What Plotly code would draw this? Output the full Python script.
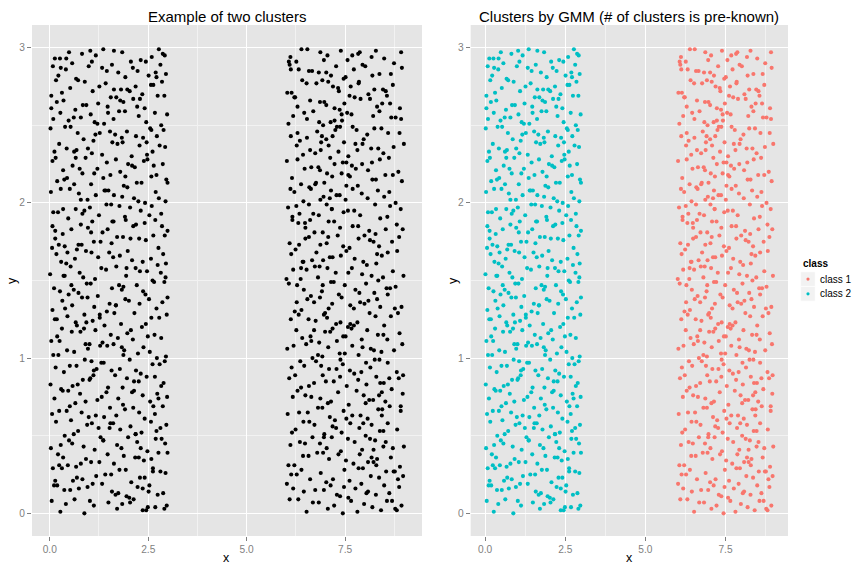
import plotly.graph_objects as go

# ---------------- data (read/estimated from the picture) ----------------
# cluster on the left (x in 0..3) -> "class 2" in the GMM panel
cluster_a_x = [
    0.27,1.84,2.91,0.63,1.12,2.45,0.05,2.68,1.49,0.88,2.13,1.71,0.41,2.97,1.02,2.36,
    1.58,0.19,2.74,0.96,2.02,0.52,1.33,2.88,0.74,1.95,2.51,0.11,1.67,2.23,0.37,1.09,
    2.62,0.83,1.41,0.08,2.29,1.77,0.59,2.94,1.18,0.31,2.07,1.56,2.81,0.69,1.93,0.14,
    0.46,2.17,1.26,2.76,0.92,1.63,0.21,2.39,1.88,0.67,2.99,1.05,0.34,2.58,1.47,0.79,
    1.71,2.84,0.03,1.36,2.48,0.57,1.99,0.86,2.22,1.14,0.28,2.69,1.82,0.49,2.93,1.29,
    0.95,2.33,1.52,0.16,2.71,1.07,0.61,2.05,1.79,2.57,0.38,1.24,2.96,0.72,1.61,2.18,
    2.41,0.24,1.69,2.87,0.81,1.38,2.12,0.06,1.91,0.54,2.63,1.17,0.43,2.27,1.53,0.99,
    0.12,1.44,2.55,0.77,1.86,2.98,0.33,1.21,2.36,0.65,1.74,2.09,0.91,2.73,1.32,0.47,
    1.96,0.58,2.26,1.11,0.02,2.67,1.48,0.84,2.89,1.66,0.29,2.14,1.03,0.71,2.46,1.85,
    0.36,2.79,1.19,2.03,0.68,1.57,2.92,0.15,1.37,2.31,0.89,1.78,2.61,0.51,1.06,2.19,
    2.54,1.28,0.09,1.83,2.72,0.44,1.62,2.24,0.97,2.95,0.62,1.46,0.22,2.38,1.89,1.01,
    0.78,2.11,1.55,0.31,2.83,1.16,0.04,1.97,2.49,0.87,1.34,2.66,0.56,1.73,2.06,0.25,
    1.39,2.58,0.66,2.15,0.18,1.81,2.97,1.09,0.45,2.34,1.64,0.93,2.78,0.13,1.27,2.44,
    0.57,1.92,2.71,0.32,1.45,2.28,0.82,1.13,2.86,0.07,1.68,2.52,0.39,2.01,1.52,2.99,
    2.21,0.73,1.58,2.91,0.26,1.04,2.43,1.87,0.61,2.65,1.22,0.11,1.76,2.37,0.94,0.48,
    1.15,2.47,0.35,1.69,2.82,0.85,2.18,0.01,1.43,2.61,0.53,1.94,2.29,0.76,1.31,2.94,
    0.64,1.51,2.36,0.17,2.74,1.23,0.92,2.09,1.78,0.42,2.57,1.06,0.29,2.88,1.61,1.98,
    2.05,0.38,1.29,2.63,0.81,1.86,0.06,2.44,1.57,2.92,0.69,1.12,2.27,0.23,1.71,2.76,
    1.34,2.19,0.55,1.93,2.85,0.14,1.62,0.97,2.41,0.33,2.68,1.47,0.79,2.12,1.08,2.99,
    0.21,1.77,2.53,1.02,0.47,2.31,1.44,2.83,0.66,1.91,0.09,2.59,1.25,2.04,0.88,1.56,
    2.69,0.96,1.63,0.28,2.14,1.39,2.94,0.74,1.84,0.51,2.42,1.17,0.03,2.77,1.49,2.25,
    1.88,0.44,2.33,1.13,2.96,0.62,1.54,0.19,2.58,1.97,0.83,2.21,1.36,0.37,2.71,1.05,
    0.58,2.48,1.21,0.07,1.79,2.87,0.91,2.16,1.45,0.34,2.64,1.68,0.76,2.39,1.99,0.15,
    2.28,1.07,0.43,1.85,2.61,0.24,1.33,2.93,0.68,1.59,2.08,0.97,2.79,0.12,1.72,2.47,
    0.86,1.96,2.72,0.53,1.27,2.37,0.02,1.66,2.89,1.11,0.39,2.19,1.53,0.71,2.55,1.83,
    1.62,0.27,2.45,1.04,2.83,0.79,1.91,0.48,2.26,1.38,0.09,2.67,1.14,2.98,0.61,1.76,
    2.12,1.47,0.18,2.74,0.93,1.69,2.41,0.35,1.23,2.91,0.65,1.87,2.29,0.84,1.55,0.04,
    0.31,2.63,1.81,0.72,2.18,1.09,2.85,0.52,1.42,2.35,0.16,1.97,2.57,1.26,0.89,2.03,
    1.74,0.08,2.51,1.33,0.67,2.23,1.58,2.95,0.41,1.92,2.69,0.99,0.22,2.11,1.45,2.81,
    0.49,2.31,1.17,2.77,0.13,1.63,2.06,0.82,2.59,1.36,0.57,2.92,1.84,0.26,1.03,2.44,
    0.73,2.26,1.48,0.19,2.83,1.07,0.55,2.41,1.92,0.34,2.67,1.16,0.88,2.04,1.63,2.95,
    1.31,0.62,2.18,0.07,1.79,2.53,0.96,1.42,2.76,0.28,1.87,2.31,0.45,1.21,2.62,0.83,
    2.09,1.54,0.38,2.87,1.01,0.69,2.46,1.74,0.14,2.22,1.36,0.91,2.71,0.51,1.68,2.99,
    0.24,1.95,2.58,1.12,0.79,2.36,1.59,0.04,2.81,1.27,0.66,2.14,1.83,0.42,2.49,1.05,
]
cluster_a_y = [
    0.01,0.06,0.03,0.09,0.05,0.02,0.08,0.04,0.07,0.00,0.09,0.03,0.06,0.05,0.08,0.02,
    0.14,0.18,0.12,0.17,0.10,0.15,0.19,0.13,0.16,0.11,0.14,0.18,0.12,0.17,0.15,0.19,
    0.27,0.22,0.25,0.29,0.23,0.28,0.21,0.26,0.24,0.29,0.20,0.25,0.27,0.23,0.28,0.21,
    0.31,0.36,0.33,0.39,0.35,0.32,0.38,0.34,0.37,0.30,0.39,0.33,0.36,0.35,0.38,0.32,
    0.44,0.48,0.42,0.47,0.40,0.45,0.49,0.43,0.46,0.41,0.44,0.48,0.42,0.47,0.45,0.49,
    0.57,0.52,0.55,0.59,0.53,0.58,0.51,0.56,0.54,0.59,0.50,0.55,0.57,0.53,0.58,0.51,
    0.61,0.66,0.63,0.69,0.65,0.62,0.68,0.64,0.67,0.60,0.69,0.63,0.66,0.65,0.68,0.62,
    0.74,0.78,0.72,0.77,0.70,0.75,0.79,0.73,0.76,0.71,0.74,0.78,0.72,0.77,0.75,0.79,
    0.87,0.82,0.85,0.89,0.83,0.88,0.81,0.86,0.84,0.89,0.80,0.85,0.87,0.83,0.88,0.81,
    0.91,0.96,0.93,0.99,0.95,0.92,0.98,0.94,0.97,0.90,0.99,0.93,0.96,0.95,0.98,0.92,
    1.04,1.08,1.02,1.07,1.00,1.05,1.09,1.03,1.06,1.01,1.04,1.08,1.02,1.07,1.05,1.09,
    1.17,1.12,1.15,1.19,1.13,1.18,1.11,1.16,1.14,1.19,1.10,1.15,1.17,1.13,1.18,1.11,
    1.21,1.26,1.23,1.29,1.25,1.22,1.28,1.24,1.27,1.20,1.29,1.23,1.26,1.25,1.28,1.22,
    1.34,1.38,1.32,1.37,1.30,1.35,1.39,1.33,1.36,1.31,1.34,1.38,1.32,1.37,1.35,1.39,
    1.47,1.42,1.45,1.49,1.43,1.48,1.41,1.46,1.44,1.49,1.40,1.45,1.47,1.43,1.48,1.41,
    1.51,1.56,1.53,1.59,1.55,1.52,1.58,1.54,1.57,1.50,1.59,1.53,1.56,1.55,1.58,1.52,
    1.64,1.68,1.62,1.67,1.60,1.65,1.69,1.63,1.66,1.61,1.64,1.68,1.62,1.67,1.65,1.69,
    1.77,1.72,1.75,1.79,1.73,1.78,1.71,1.76,1.74,1.79,1.70,1.75,1.77,1.73,1.78,1.71,
    1.81,1.86,1.83,1.89,1.85,1.82,1.88,1.84,1.87,1.80,1.89,1.83,1.86,1.85,1.88,1.82,
    1.94,1.98,1.92,1.97,1.90,1.95,1.99,1.93,1.96,1.91,1.94,1.98,1.92,1.97,1.95,1.99,
    2.07,2.02,2.05,2.09,2.03,2.08,2.01,2.06,2.04,2.09,2.00,2.05,2.07,2.03,2.08,2.01,
    2.11,2.16,2.13,2.19,2.15,2.12,2.18,2.14,2.17,2.10,2.19,2.13,2.16,2.15,2.18,2.12,
    2.24,2.28,2.22,2.27,2.20,2.25,2.29,2.23,2.26,2.21,2.24,2.28,2.22,2.27,2.25,2.29,
    2.37,2.32,2.35,2.39,2.33,2.38,2.31,2.36,2.34,2.39,2.30,2.35,2.37,2.33,2.38,2.31,
    2.41,2.46,2.43,2.49,2.45,2.42,2.48,2.44,2.47,2.40,2.49,2.43,2.46,2.45,2.48,2.42,
    2.54,2.58,2.52,2.57,2.50,2.55,2.59,2.53,2.56,2.51,2.54,2.58,2.52,2.57,2.55,2.59,
    2.67,2.62,2.65,2.69,2.63,2.68,2.61,2.66,2.64,2.69,2.60,2.65,2.67,2.63,2.68,2.61,
    2.71,2.76,2.73,2.79,2.75,2.72,2.78,2.74,2.77,2.70,2.79,2.73,2.76,2.75,2.78,2.72,
    2.84,2.88,2.82,2.87,2.80,2.85,2.89,2.83,2.86,2.81,2.84,2.88,2.82,2.87,2.85,2.89,
    2.97,2.92,2.95,2.99,2.93,2.98,2.91,2.96,2.94,2.99,2.90,2.95,2.97,2.93,2.98,2.91,
    1.73,0.36,2.58,1.14,0.82,2.91,1.47,0.23,2.17,1.96,0.64,2.44,1.28,0.07,2.73,1.61,
    0.97,2.33,0.51,1.85,2.66,0.18,1.39,2.08,0.74,2.87,1.02,0.42,1.68,2.51,0.29,1.93,
    2.24,0.58,1.53,2.96,0.86,1.21,2.39,0.13,1.77,2.62,0.47,1.09,2.81,0.69,1.34,2.13,
    0.31,1.58,2.47,0.92,2.02,0.16,1.88,2.69,0.55,1.26,2.29,0.79,1.44,2.93,0.04,1.81,
]

# cluster on the right (x in 6..9) -> "class 1" in the GMM panel
cluster_b_x = [
    6.83,8.41,7.22,6.09,8.77,7.65,6.52,7.98,8.19,6.31,7.44,8.93,6.68,7.06,8.56,7.81,
    7.37,6.18,8.62,7.91,6.74,8.28,7.13,6.45,8.87,7.58,6.02,8.04,7.76,6.96,8.49,7.29,
    8.15,7.48,6.61,8.73,7.02,6.27,7.84,8.36,6.88,7.61,8.97,6.39,7.19,8.54,6.13,7.95,
    6.57,7.71,8.31,6.94,8.08,7.33,6.21,8.66,7.52,6.79,8.89,7.09,6.43,8.22,7.87,6.06,
    7.93,6.35,8.47,7.16,6.86,8.71,7.57,6.11,8.26,7.39,6.67,8.99,7.74,6.48,8.13,7.03,
    6.24,8.58,7.41,6.72,8.02,7.86,6.44,8.38,7.18,6.97,8.82,7.63,6.15,8.17,7.27,6.59,
    8.44,7.11,6.33,8.91,7.68,6.81,8.07,7.46,6.04,8.63,7.24,6.55,8.34,7.89,6.92,7.53,
    7.06,6.49,8.21,7.79,6.17,8.52,7.32,6.87,8.96,7.59,6.29,8.11,7.97,6.64,8.43,7.14,
    6.71,8.29,7.54,6.08,8.68,7.21,6.93,8.04,7.83,6.38,8.48,7.37,6.58,8.86,7.01,6.23,
    8.03,7.62,6.46,8.37,7.09,6.76,8.81,7.44,6.14,8.25,7.73,6.89,8.58,7.28,6.36,7.91,
    6.92,8.15,7.36,6.51,8.74,7.84,6.19,8.42,7.07,6.67,8.95,7.49,6.03,8.23,7.68,6.81,
    7.45,6.26,8.57,7.12,6.84,8.33,7.66,6.41,8.88,7.29,6.62,8.06,7.92,6.99,8.47,7.18,
    8.66,7.27,6.57,8.12,7.81,6.32,8.49,7.04,6.75,8.84,7.57,6.12,8.27,7.38,6.96,7.72,
    6.39,7.88,8.39,6.86,7.17,8.76,6.54,7.63,8.09,6.22,7.41,8.93,6.71,7.99,8.31,7.08,
    7.76,6.07,8.24,7.49,6.63,8.55,7.14,6.91,8.78,7.34,6.45,8.03,7.86,6.28,8.64,7.21,
    6.18,8.46,7.58,6.73,8.17,7.05,6.37,8.71,7.93,6.85,8.34,7.26,6.52,8.98,7.67,6.01,
    8.29,7.39,6.66,8.82,7.11,6.42,8.58,7.74,6.13,8.05,7.53,6.94,8.43,7.18,6.77,7.96,
    7.03,6.58,8.36,7.84,6.24,8.69,7.31,6.87,8.13,7.61,6.09,8.87,7.45,6.49,8.22,7.99,
    6.48,8.11,7.69,6.16,8.53,7.22,6.93,8.81,7.37,6.61,8.27,7.83,6.31,8.96,7.08,6.72,
    8.57,7.16,6.34,8.26,7.73,6.83,8.64,7.46,6.05,8.39,7.03,6.69,8.91,7.57,6.26,7.88,
    6.95,8.33,7.51,6.21,8.78,7.28,6.63,8.07,7.92,6.44,8.49,7.14,6.87,8.62,7.36,6.11,
    7.62,6.38,8.19,7.04,6.76,8.52,7.82,6.15,8.94,7.41,6.59,8.28,7.17,6.97,8.71,7.53,
    8.08,7.44,6.82,8.61,7.23,6.47,8.38,7.67,6.02,8.85,7.12,6.64,8.18,7.93,6.29,7.77,
    6.61,7.94,8.47,6.27,7.58,8.16,6.89,7.33,8.73,6.43,7.81,8.99,6.74,7.08,8.34,7.47,
    7.25,6.53,8.88,7.69,6.12,8.42,7.97,6.79,8.06,7.37,6.35,8.59,7.79,6.91,8.24,7.02,
    6.06,8.21,7.42,6.69,8.67,7.13,6.46,8.92,7.66,6.94,8.37,7.23,6.18,8.78,7.55,6.84,
    8.44,7.74,6.29,8.13,7.36,6.86,8.56,7.02,6.61,8.89,7.48,6.23,8.31,7.89,6.97,7.61,
    6.77,8.53,7.19,6.41,8.24,7.85,6.14,8.71,7.32,6.92,8.09,7.64,6.52,8.46,7.07,6.03,
    7.51,6.32,8.66,7.94,6.58,8.19,7.27,6.83,8.94,7.46,6.09,8.37,7.72,6.66,8.01,7.14,
    6.11,8.28,7.56,6.87,8.74,7.05,6.39,8.49,7.83,6.26,8.17,7.39,6.96,8.92,7.68,6.54,
    7.18,8.62,6.44,7.87,8.29,6.71,7.53,8.91,6.16,7.34,8.08,6.93,7.69,8.47,6.27,7.02,
    8.36,6.58,7.41,8.84,6.99,7.76,8.14,6.33,7.23,8.69,6.81,7.58,8.43,6.07,7.94,8.22,
    6.49,7.29,8.76,6.64,7.84,8.02,6.38,7.11,8.53,6.88,7.63,8.97,6.21,7.47,8.31,6.74,
    7.96,6.12,8.58,7.38,6.86,8.17,7.07,6.53,8.81,7.72,6.29,8.39,7.16,6.96,8.64,7.51,
]
cluster_b_y = [
    0.07,0.02,0.05,0.09,0.03,0.08,0.01,0.06,0.04,0.09,0.00,0.05,0.07,0.03,0.08,0.01,
    0.11,0.16,0.13,0.19,0.15,0.12,0.18,0.14,0.17,0.10,0.19,0.13,0.16,0.15,0.18,0.12,
    0.24,0.28,0.22,0.27,0.20,0.25,0.29,0.23,0.26,0.21,0.24,0.28,0.22,0.27,0.25,0.29,
    0.37,0.32,0.35,0.39,0.33,0.38,0.31,0.36,0.34,0.39,0.30,0.35,0.37,0.33,0.38,0.31,
    0.41,0.46,0.43,0.49,0.45,0.42,0.48,0.44,0.47,0.40,0.49,0.43,0.46,0.45,0.48,0.42,
    0.54,0.58,0.52,0.57,0.50,0.55,0.59,0.53,0.56,0.51,0.54,0.58,0.52,0.57,0.55,0.59,
    0.67,0.62,0.65,0.69,0.63,0.68,0.61,0.66,0.64,0.69,0.60,0.65,0.67,0.63,0.68,0.61,
    0.71,0.76,0.73,0.79,0.75,0.72,0.78,0.74,0.77,0.70,0.79,0.73,0.76,0.75,0.78,0.72,
    0.84,0.88,0.82,0.87,0.80,0.85,0.89,0.83,0.86,0.81,0.84,0.88,0.82,0.87,0.85,0.89,
    0.97,0.92,0.95,0.99,0.93,0.98,0.91,0.96,0.94,0.99,0.90,0.95,0.97,0.93,0.98,0.91,
    1.01,1.06,1.03,1.09,1.05,1.02,1.08,1.04,1.07,1.00,1.09,1.03,1.06,1.05,1.08,1.02,
    1.14,1.18,1.12,1.17,1.10,1.15,1.19,1.13,1.16,1.11,1.14,1.18,1.12,1.17,1.15,1.19,
    1.27,1.22,1.25,1.29,1.23,1.28,1.21,1.26,1.24,1.29,1.20,1.25,1.27,1.23,1.28,1.21,
    1.31,1.36,1.33,1.39,1.35,1.32,1.38,1.34,1.37,1.30,1.39,1.33,1.36,1.35,1.38,1.32,
    1.44,1.48,1.42,1.47,1.40,1.45,1.49,1.43,1.46,1.41,1.44,1.48,1.42,1.47,1.45,1.49,
    1.57,1.52,1.55,1.59,1.53,1.58,1.51,1.56,1.54,1.59,1.50,1.55,1.57,1.53,1.58,1.51,
    1.61,1.66,1.63,1.69,1.65,1.62,1.68,1.64,1.67,1.60,1.69,1.63,1.66,1.65,1.68,1.62,
    1.74,1.78,1.72,1.77,1.70,1.75,1.79,1.73,1.76,1.71,1.74,1.78,1.72,1.77,1.75,1.79,
    1.87,1.82,1.85,1.89,1.83,1.88,1.81,1.86,1.84,1.89,1.80,1.85,1.87,1.83,1.88,1.81,
    1.91,1.96,1.93,1.99,1.95,1.92,1.98,1.94,1.97,1.90,1.99,1.93,1.96,1.95,1.98,1.92,
    2.04,2.08,2.02,2.07,2.00,2.05,2.09,2.03,2.06,2.01,2.04,2.08,2.02,2.07,2.05,2.09,
    2.17,2.12,2.15,2.19,2.13,2.18,2.11,2.16,2.14,2.19,2.10,2.15,2.17,2.13,2.18,2.11,
    2.21,2.26,2.23,2.29,2.25,2.22,2.28,2.24,2.27,2.20,2.29,2.23,2.26,2.25,2.28,2.22,
    2.34,2.38,2.32,2.37,2.30,2.35,2.39,2.33,2.36,2.31,2.34,2.38,2.32,2.37,2.35,2.39,
    2.47,2.42,2.45,2.49,2.43,2.48,2.41,2.46,2.44,2.49,2.40,2.45,2.47,2.43,2.48,2.41,
    2.51,2.56,2.53,2.59,2.55,2.52,2.58,2.54,2.57,2.50,2.59,2.53,2.56,2.55,2.58,2.52,
    2.64,2.68,2.62,2.67,2.60,2.65,2.69,2.63,2.66,2.61,2.64,2.68,2.62,2.67,2.65,2.69,
    2.77,2.72,2.75,2.79,2.73,2.78,2.71,2.76,2.74,2.79,2.70,2.75,2.77,2.73,2.78,2.71,
    2.81,2.86,2.83,2.89,2.85,2.82,2.88,2.84,2.87,2.80,2.89,2.83,2.86,2.85,2.88,2.82,
    2.94,2.98,2.92,2.97,2.90,2.95,2.99,2.93,2.96,2.91,2.94,2.98,2.92,2.97,2.95,2.99,
    2.43,0.87,1.62,2.97,0.31,1.18,2.26,0.66,1.91,2.72,0.14,1.47,2.09,0.53,1.36,2.84,
    0.76,1.99,2.57,0.22,1.29,2.38,0.94,1.73,2.61,0.08,1.52,2.18,0.63,2.91,1.07,0.41,
    1.84,2.49,0.27,1.11,2.77,0.71,1.58,2.03,0.46,2.34,1.22,0.89,2.68,0.17,1.67,2.12,
    0.58,2.86,1.41,0.99,2.21,0.36,1.78,2.54,0.02,1.32,2.45,0.84,1.96,0.49,2.64,1.14,
]

x_tick_vals = [0, 2.5, 5, 7.5]
x_tick_text = ["0.0", "2.5", "5.0", "7.5"]
y_tick_vals = [0, 1, 2, 3]
y_tick_text = ["0", "1", "2", "3"]
class_names = ["class 1", "class 2"]
class_colors = ["#F8766D", "#00BFC4"]

titles = ["Example of two clusters", "Clusters by GMM (# of clusters is pre-known)"]

# ---------------- layout helpers ----------------
W, H = 855, 567
FONT = "Liberation Sans, Arial, Helvetica, sans-serif"
TICK_GREY = "#7F7F7F"
PANEL = "#E5E5E5"


def px(x):
    return x / W


def py(y):
    return 1 - y / H


fig = go.Figure()

# left panel: all points black
fig.add_trace(go.Scatter(x=cluster_a_x + cluster_b_x, y=cluster_a_y + cluster_b_y,
                         mode="markers", marker=dict(color="black", size=4.1),
                         xaxis="x", yaxis="y", showlegend=False, hoverinfo="x+y"))
# right panel: coloured by class
fig.add_trace(go.Scatter(x=cluster_b_x, y=cluster_b_y, mode="markers",
                         marker=dict(color=class_colors[0], size=4.1),
                         xaxis="x2", yaxis="y2", name=class_names[0], showlegend=False))
fig.add_trace(go.Scatter(x=cluster_a_x, y=cluster_a_y, mode="markers",
                         marker=dict(color=class_colors[1], size=4.1),
                         xaxis="x2", yaxis="y2", name=class_names[1], showlegend=False))

ydom = [py(536), py(25)]


def xaxis_def(dom, anchor):
    return dict(domain=dom, anchor=anchor, range=[-0.45, 9.45],
                tickmode="array", tickvals=x_tick_vals, ticktext=x_tick_text,
                showgrid=True, gridcolor="white", gridwidth=1.1,
                minor=dict(tickmode="array", tickvals=[1.25, 3.75, 6.25, 8.75],
                           showgrid=True, gridcolor="#F2F2F2", gridwidth=0.6, ticks=""),
                ticks="outside", ticklen=4, tickwidth=1, tickcolor=TICK_GREY,
                tickfont=dict(family=FONT, size=10.2, color=TICK_GREY),
                zeroline=False, showline=False, fixedrange=True)


def yaxis_def(anchor):
    return dict(domain=ydom, anchor=anchor, range=[-0.146, 3.146],
                tickmode="array", tickvals=y_tick_vals, ticktext=y_tick_text,
                showgrid=True, gridcolor="white", gridwidth=1.1,
                minor=dict(tickmode="array", tickvals=[0.5, 1.5, 2.5],
                           showgrid=True, gridcolor="#F2F2F2", gridwidth=0.6, ticks=""),
                ticks="outside", ticklen=4, tickwidth=1, tickcolor=TICK_GREY,
                tickfont=dict(family=FONT, size=10.2, color=TICK_GREY),
                zeroline=False, showline=False, fixedrange=True)


annotations = []
# panel titles
annotations.append(dict(text=titles[0], x=px(227), y=py(16), xref="paper", yref="paper",
                        xanchor="center", yanchor="middle", showarrow=False,
                        font=dict(family=FONT, size=15, color="black")))
annotations.append(dict(text=titles[1], x=px(629.3), y=py(16), xref="paper", yref="paper",
                        xanchor="center", yanchor="middle", showarrow=False,
                        font=dict(family=FONT, size=15, color="black")))
# axis titles
for cx in (227, 629.3):
    annotations.append(dict(text="x", x=px(cx), y=py(558), xref="paper", yref="paper",
                            xanchor="center", yanchor="middle", showarrow=False,
                            font=dict(family=FONT, size=12.5, color="black")))
for cx in (12.5, 453.5):
    annotations.append(dict(text="y", x=px(cx), y=py(280.5), xref="paper", yref="paper",
                            xanchor="center", yanchor="middle", showarrow=False, textangle=-90,
                            font=dict(family=FONT, size=12.5, color="black")))

# manual ggplot-style legend
annotations.append(dict(text="<b>class</b>", x=px(800.5), y=py(263), xref="paper", yref="paper",
                        xanchor="left", yanchor="middle", showarrow=False,
                        font=dict(family=FONT, size=10, color="black")))
shapes = []
key_tops = [271.8, 286.6]
for i, name in enumerate(class_names):
    t = key_tops[i]
    shapes.append(dict(type="rect", xref="paper", yref="paper",
                       x0=px(800.7), x1=px(815.2), y0=py(t + 14.5), y1=py(t),
                       fillcolor="#F2F2F2", line=dict(color="white", width=0.6), layer="above"))
    cy = t + 7.25
    shapes.append(dict(type="circle", xref="paper", yref="paper",
                       x0=px(808 - 1.6), x1=px(808 + 1.6), y0=py(cy + 1.6), y1=py(cy - 1.6),
                       fillcolor=class_colors[i], line=dict(width=0), layer="above"))
    annotations.append(dict(text=name, x=px(818.3), y=py(cy), xref="paper", yref="paper",
                            xanchor="left", yanchor="middle", showarrow=False,
                            font=dict(family=FONT, size=10, color="black")))

fig.update_layout(
    width=W, height=H, autosize=False,
    margin=dict(l=0, r=0, t=0, b=0, pad=0),
    paper_bgcolor="white", plot_bgcolor=PANEL,
    xaxis=xaxis_def([px(32), px(422)], "y"),
    yaxis=yaxis_def("x"),
    xaxis2=xaxis_def([px(470.7), px(788)], "y2"),
    yaxis2=yaxis_def("x2"),
    annotations=annotations, shapes=shapes,
    showlegend=False, hovermode="closest",
    font=dict(family=FONT),
)

# the page body has a default 8px margin; remove it so the figure fills the window
fig.write_html("out.html", config={"displayModeBar": False},
               post_script="document.body.style.margin='0';document.body.style.overflow='hidden';")
